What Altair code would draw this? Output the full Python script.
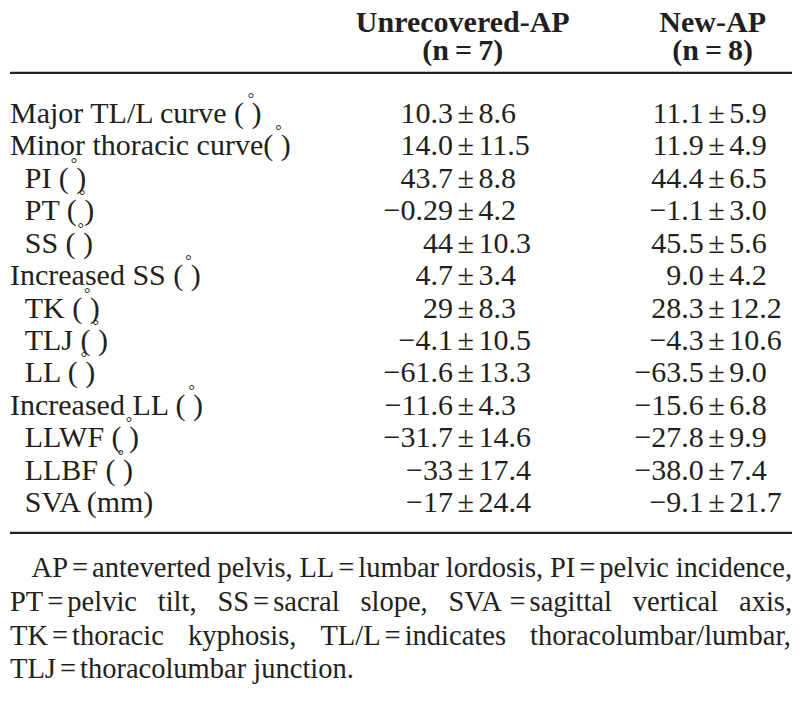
import altair as alt
import pandas as pd

# ---------------- data ----------------
row_labels = ["Major TL/L curve (°)", "Minor thoracic curve(°)", "PI (°)", "PT (°)", "SS (°)",
              "Increased SS (°)", "TK (°)", "TLJ (°)", "LL (°)", "Increased LL (°)",
              "LLWF (°)", "LLBF (°)", "SVA (mm)"]
row_indent = [0, 0, 1, 1, 1, 0, 1, 1, 1, 0, 1, 1, 1]
unrec_mean = ["10.3", "14.0", "43.7", "−0.29", "44", "4.7", "29", "−4.1", "−61.6", "−11.6", "−31.7", "−33", "−17"]
unrec_sd = ["8.6", "11.5", "8.8", "4.2", "10.3", "3.4", "8.3", "10.5", "13.3", "4.3", "14.6", "17.4", "24.4"]
new_mean = ["11.1", "11.9", "44.4", "−1.1", "45.5", "9.0", "28.3", "−4.3", "−63.5", "−15.6", "−27.8", "−38.0", "−9.1"]
new_sd = ["5.9", "4.9", "6.5", "3.0", "5.6", "4.2", "12.2", "10.6", "9.0", "6.8", "9.9", "7.4", "21.7"]
group_names = ["Unrecovered-AP", "New-AP"]
group_n = ["(n\u2009=\u20097)", "(n\u2009=\u20098)"]
footnote_lines = [
    "AP = anteverted pelvis, LL = lumbar lordosis, PI = pelvic incidence,",
    "PT = pelvic tilt, SS = sacral slope, SVA = sagittal vertical axis,",
    "TK = thoracic kyphosis, TL/L = indicates thoracolumbar/lumbar,",
    "TLJ = thoracolumbar junction.",
]

# ---------------- layout / style ----------------
FONT = "Liberation Serif"
FS = 30
FS_FOOT = 28.5
INK = "#231f20"
W, H = 784, 686
SX = W / 800.0
XS = alt.Scale(domain=[0, 800], range=[0, W], nice=False, zero=False)
YS = alt.Scale(domain=[0, 12], range=[99, 488], nice=False, zero=False)
PM_X = [465, 721]
HEAD_X = [462, 717]
GAP = 13
INDENT_X = 15
HEAD_POS = [-2.80, -1.95]
RULE_POS = [-1.27, 12.92]
FOOT_POS = [14.0, 15.05, 16.1, 17.12]
FOOT_LEFT = [22, 0, 0, 0]
FOOT_RIGHT = 798
FOOT_JUSTIFY = [True, True, True, False]
EQ_GAP = 4.0
RING_FS = 16
RING_DY = -15

TIMES = {' ': 250, ',': 250, '.': 250, '/': 278, '(': 333, ')': 333, '-': 333, '=': 564,
         'A': 722, 'B': 667, 'C': 667, 'D': 722, 'E': 611, 'F': 556, 'G': 722, 'H': 722, 'I': 333,
         'J': 389, 'K': 722, 'L': 611, 'M': 889, 'N': 722, 'O': 722, 'P': 556, 'Q': 722, 'R': 667,
         'S': 556, 'T': 611, 'U': 722, 'V': 722, 'W': 944, 'X': 722, 'Y': 722, 'Z': 611,
         'a': 444, 'b': 500, 'c': 444, 'd': 500, 'e': 444, 'f': 333, 'g': 500, 'h': 500, 'i': 278,
         'j': 278, 'k': 500, 'l': 278, 'm': 778, 'n': 500, 'o': 500, 'p': 500, 'q': 500, 'r': 333,
         's': 389, 't': 278, 'u': 500, 'v': 500, 'w': 722, 'x': 500, 'y': 500, 'z': 444}


def tw(s, fs):
    return sum(TIMES.get(c, 500) for c in s) / 1000.0 * fs


def tstyle(**kw):
    base = dict(font=FONT, fontSize=FS, color=INK, baseline="middle")
    base.update(kw)
    return base


n = len(row_labels)
body_rows, rings = [], []
for i, lab in enumerate(row_labels):
    lx = INDENT_X if row_indent[i] else 0
    shown = lab.replace("(°)", "( )")
    body_rows.append({"label": shown, "pos": i, "lx": lx})
    if "(°)" in lab:
        pre = lab.split("(°)")[0] + "("
        rx = lx + (tw(pre, FS) + 0.17 * FS) / SX
        rings.append({"t": "°", "pos": i, "rx": rx})
body = pd.DataFrame(body_rows)
rings = pd.DataFrame(rings)

vals = []
for g, (means, sds) in enumerate([(unrec_mean, unrec_sd), (new_mean, new_sd)]):
    for i in range(n):
        vals.append({"pos": i, "part": "mean", "t": means[i], "vx": PM_X[g] - GAP})
        vals.append({"pos": i, "part": "pm", "t": "±", "vx": PM_X[g]})
        vals.append({"pos": i, "part": "sd", "t": sds[i], "vx": PM_X[g] + GAP})
vals = pd.DataFrame(vals)

heads = []
for g in range(2):
    heads.append({"t": group_names[g], "hx": HEAD_X[g], "pos": HEAD_POS[0]})
    heads.append({"t": group_n[g], "hx": HEAD_X[g], "pos": HEAD_POS[1]})
heads = pd.DataFrame(heads)

rules = pd.DataFrame({"pos": RULE_POS, "x0": [0, 0], "x1": [800, 800]})

# footnote: justified lines, tight spacing around "="
parts = []
for k, line in enumerate(footnote_lines):
    toks = line.replace(" = ", "=").split(" ")
    groups = [t.split("=") for t in toks]
    gw = []
    for gparts in groups:
        w = sum(tw(p, FS_FOOT) for p in gparts)
        w += (len(gparts) - 1) * (tw("=", FS_FOOT) + 2 * EQ_GAP)
        gw.append(w)
    left_s = FOOT_LEFT[k] * SX
    right_s = FOOT_RIGHT * SX
    if FOOT_JUSTIFY[k]:
        gap = (right_s - left_s - sum(gw)) / (len(groups) - 1)
    else:
        gap = tw(" ", FS_FOOT)
    x = left_s
    for gparts, w in zip(groups, gw):
        xx = x
        for j, p in enumerate(gparts):
            if j > 0:
                xx += EQ_GAP
                parts.append({"t": "=", "fx": xx / SX, "pos": FOOT_POS[k]})
                xx += tw("=", FS_FOOT) + EQ_GAP
            parts.append({"t": p, "fx": xx / SX, "pos": FOOT_POS[k]})
            xx += tw(p, FS_FOOT)
        x += w + gap
foot = pd.DataFrame(parts)

Y = alt.Y("pos:Q", scale=YS, axis=None)

labels_layer = alt.Chart(body).mark_text(**tstyle(align="left")).encode(
    x=alt.X("lx:Q", scale=XS, axis=None), y=Y, text="label:N")
ring_layer = alt.Chart(rings).mark_text(**tstyle(align="center", fontSize=RING_FS, dy=RING_DY)).encode(
    x=alt.X("rx:Q", scale=XS, axis=None), y=Y, text="t:N")

mean_layer = alt.Chart(vals).transform_filter(alt.datum.part == "mean").mark_text(
    **tstyle(align="right")).encode(x=alt.X("vx:Q", scale=XS, axis=None), y=Y, text="t:N")
pm_layer = alt.Chart(vals).transform_filter(alt.datum.part == "pm").mark_text(
    **tstyle(align="center")).encode(x=alt.X("vx:Q", scale=XS, axis=None), y=Y, text="t:N")
sd_layer = alt.Chart(vals).transform_filter(alt.datum.part == "sd").mark_text(
    **tstyle(align="left")).encode(x=alt.X("vx:Q", scale=XS, axis=None), y=Y, text="t:N")

head_layer = alt.Chart(heads).mark_text(**tstyle(align="center", fontWeight="bold")).encode(
    x=alt.X("hx:Q", scale=XS, axis=None), y=Y, text="t:N")

rule_layer = alt.Chart(rules).mark_rule(color=INK, strokeWidth=2.2).encode(
    x=alt.X("x0:Q", scale=XS, axis=None), x2="x1:Q", y=Y)

foot_layer = alt.Chart(foot).mark_text(**tstyle(align="left", fontSize=FS_FOOT)).encode(
    x=alt.X("fx:Q", scale=XS, axis=None), y=Y, text="t:N")

chart = alt.layer(rule_layer, head_layer, labels_layer, ring_layer, mean_layer, pm_layer, sd_layer,
                  foot_layer).properties(
    width=W, height=H, padding=0, background="white",
    autosize=alt.AutoSizeParams(type="fit", contains="padding"),
).configure_view(stroke=None)

chart.save("out.html", embed_options={"renderer": "svg", "actions": False})
